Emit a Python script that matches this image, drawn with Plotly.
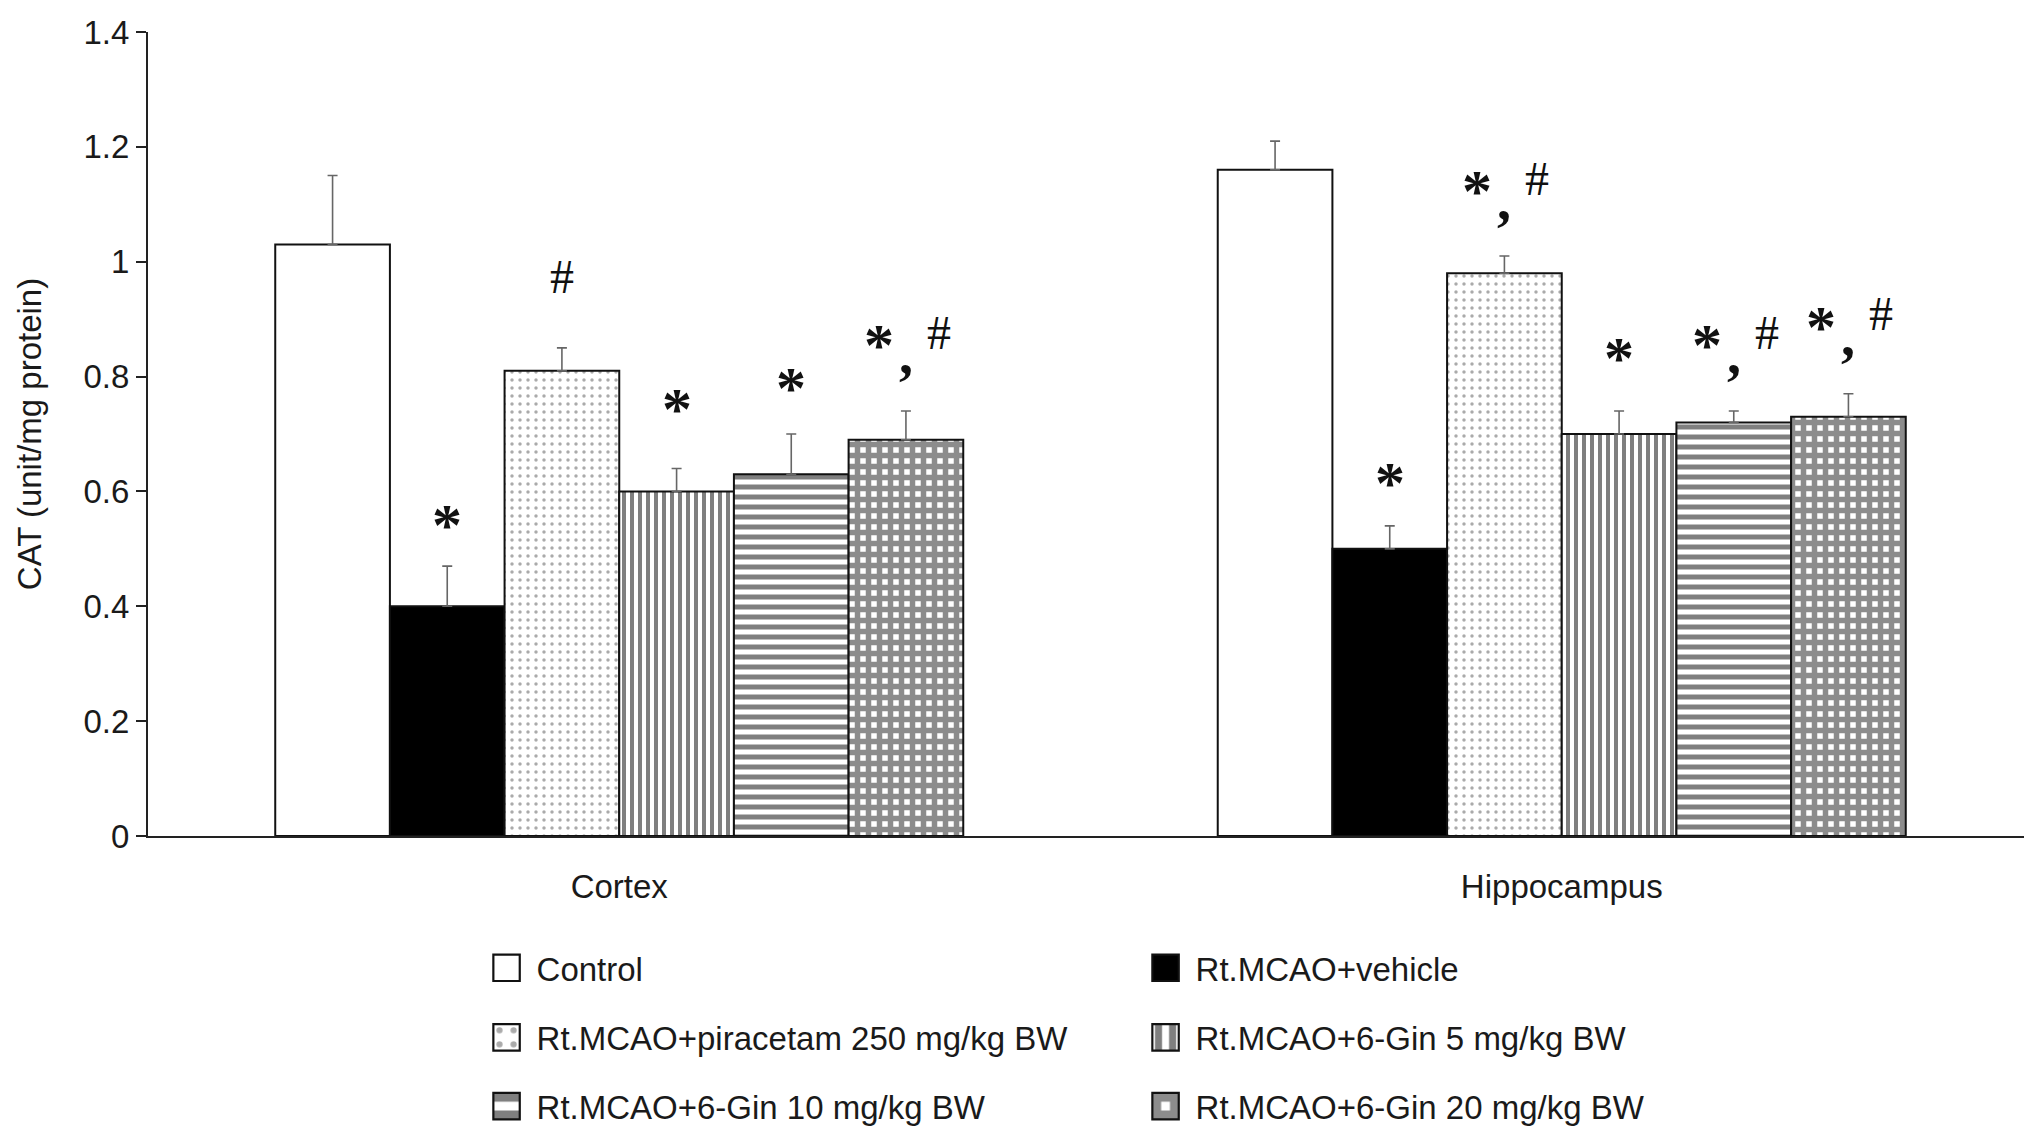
import plotly.graph_objects as go

# regions on the x axis
REGIONS = ["Cortex", "Hippocampus"]

# treatment groups (legend order)
GROUPS = [
    "Control",
    "Rt.MCAO+vehicle",
    "Rt.MCAO+piracetam 250 mg/kg BW",
    "Rt.MCAO+6-Gin 5 mg/kg BW",
    "Rt.MCAO+6-Gin 10 mg/kg BW",
    "Rt.MCAO+6-Gin 20 mg/kg BW",
]

# CAT activity, one list per group: [cortex, hippocampus]
CONTROL = [1.03, 1.16]
VEHICLE = [0.40, 0.50]
PIRACETAM = [0.81, 0.98]
GIN5 = [0.60, 0.70]
GIN10 = [0.63, 0.72]
GIN20 = [0.69, 0.73]

# upper error (SEM), same order
ERR_CONTROL = [0.12, 0.05]
ERR_VEHICLE = [0.07, 0.04]
ERR_PIRACETAM = [0.04, 0.03]
ERR_GIN5 = [0.04, 0.04]
ERR_GIN10 = [0.07, 0.02]
ERR_GIN20 = [0.05, 0.04]

# significance marks per group: [cortex, hippocampus]
SIG_CONTROL = ["", ""]
SIG_VEHICLE = ["*", "*"]
SIG_PIRACETAM = ["#", "*,#"]
SIG_GIN5 = ["*", "*"]
SIG_GIN10 = ["*", "*,#"]
SIG_GIN20 = ["*,#", "*,#"]

# height of the marks on the y scale
SIG_Y_CONTROL = [None, None]
SIG_Y_VEHICLE = [0.553, 0.627]
SIG_Y_PIRACETAM = [0.975, 1.135]
SIG_Y_GIN5 = [0.755, 0.845]
SIG_Y_GIN10 = [0.793, 0.867]
SIG_Y_GIN20 = [0.867, 0.899]

VALUES = [CONTROL, VEHICLE, PIRACETAM, GIN5, GIN10, GIN20]
ERRORS = [ERR_CONTROL, ERR_VEHICLE, ERR_PIRACETAM, ERR_GIN5, ERR_GIN10, ERR_GIN20]
SIGS = [SIG_CONTROL, SIG_VEHICLE, SIG_PIRACETAM, SIG_GIN5, SIG_GIN10, SIG_GIN20]
SIG_YS = [SIG_Y_CONTROL, SIG_Y_VEHICLE, SIG_Y_PIRACETAM, SIG_Y_GIN5, SIG_Y_GIN10, SIG_Y_GIN20]

PATTERNS = [
    dict(color="white"),
    dict(color="black"),
    dict(color="white", pattern=dict(shape=".", fgcolor="#555555", bgcolor="white", size=8, solidity=0.15)),
    dict(color="white", pattern=dict(shape="|", fgcolor="black", bgcolor="white", size=8, solidity=0.5)),
    dict(color="white", pattern=dict(shape="-", fgcolor="black", bgcolor="white", size=10, solidity=0.5)),
    dict(color="white", pattern=dict(shape="+", fgcolor="#1a1a1a", bgcolor="white", size=11, solidity=0.75)),
]

LEGEND_OF = ["legend", "legend", "legend2", "legend2", "legend3", "legend3"]

FONT = "Liberation Sans, Arial, sans-serif"
SERIF = "Liberation Serif, Times New Roman, serif"
FS = 33
BARGAP = 0.27

fig = go.Figure()

for name, vals, errs, style, leg in zip(GROUPS, VALUES, ERRORS, PATTERNS, LEGEND_OF):
    fig.add_trace(
        go.Bar(
            name=name,
            x=REGIONS,
            y=vals,
            marker=dict(line=dict(color="#111111", width=2), **style),
            error_y=dict(
                type="data",
                array=errs,
                arrayminus=[0] * len(errs),
                symmetric=False,
                color="#666666",
                thickness=1.6,
                width=5,
            ),
            legend=leg,
        )
    )

# significance marks above the bars
STAR = 60
HASH = 48
COMMA = 56
n = len(GROUPS)
bar_w = (1 - BARGAP) / n
for gi in range(n):
    for ri, region in enumerate(REGIONS):
        label = SIGS[gi][ri]
        if not label:
            continue
        xc = ri + (gi - (n - 1) / 2) * bar_w
        y = SIG_YS[gi][ri]
        if label == "*,#":
            parts = [("*", -27, 0), (",", 0, -16), ("#", 33, 6)]
        elif label == "*":
            parts = [("*", 0, 0)]
        else:
            parts = [("#", 0, 0)]
        for txt, dx, dy in parts:
            if txt == "*":
                size, weight, dy = STAR, "bold", dy - 7
            elif txt == ",":
                size, weight = COMMA, "bold"
            else:
                size, weight = HASH, "normal"
            fig.add_annotation(
                x=xc, y=y, text=txt, showarrow=False,
                xshift=dx, yshift=dy,
                xanchor="center", yanchor="middle",
                font=dict(family=SERIF, size=size, color="#111111", weight=weight),
            )

legend_common = dict(
    orientation="h",
    xanchor="left",
    yanchor="middle",
    entrywidth=594,
    entrywidthmode="pixels",
    itemwidth=50,
    font=dict(family=FONT, size=FS, color="#1a1a1a"),
    bgcolor="rgba(0,0,0,0)",
)

fig.update_layout(
    width=2032,
    height=1133,
    barmode="group",
    bargap=BARGAP,
    bargroupgap=0,
    plot_bgcolor="white",
    paper_bgcolor="white",
    font=dict(family=FONT, size=FS, color="#1a1a1a"),
    margin=dict(l=140, r=7, t=24, b=302),
    showlegend=True,
    legend=dict(x=0.1743, y=-0.164, **legend_common),
    legend2=dict(x=0.1743, y=-0.2505, **legend_common),
    legend3=dict(x=0.1743, y=-0.336, **legend_common),
)

fig.update_xaxes(
    type="category",
    range=[-0.5, 1.5],
    showline=True,
    linecolor="#222222",
    linewidth=2,
    ticks="",
    ticklabelstandoff=20,
    showgrid=False,
    zeroline=False,
)

fig.update_yaxes(
    range=[0, 1.4],
    dtick=0.2,
    tick0=0,
    showline=True,
    linecolor="#222222",
    linewidth=2,
    ticks="outside",
    ticklen=10,
    tickwidth=2,
    tickcolor="#222222",
    showgrid=False,
    zeroline=False,
    title=dict(text="CAT (unit/mg protein)", standoff=32, font=dict(size=FS)),
)

# bigger legend swatches, like the boxed keys of the original figure
BIG_KEYS = (
    "document.querySelectorAll('.legendpoints path').forEach(function(p){"
    "var t=p.getAttribute('transform')||'';"
    "p.setAttribute('transform',t+' scale(2.2)');p.style.strokeWidth='1px';});"
)

fig.write_html("out.html", post_script=BIG_KEYS)
